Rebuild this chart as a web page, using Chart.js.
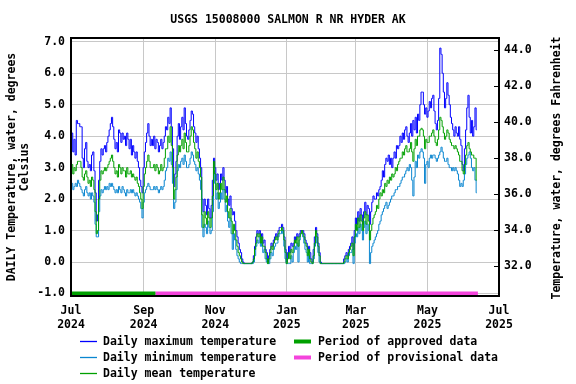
<!DOCTYPE html>
<html><head><meta charset="utf-8">
<script src="https://cdn.jsdelivr.net/npm/chart.js@4.4.1/dist/chart.umd.min.js"></script>
<style>html,body{margin:0;padding:0;background:#fff}canvas{display:block}</style>
</head><body>
<canvas id="c" width="576" height="384"></canvas>
<script>
const chartTitle = 'USGS 15008000 SALMON R NR HYDER AK';
const leftTitle = ['DAILY Temperature, water, degrees', 'Celsius'];
const rightTitle = 'Temperature, water, degrees Fahrenheit';
const xTickDays = [0, 62, 123, 184, 243, 304, 365];
const xTickMonths = ['Jul', 'Sep', 'Nov', 'Jan', 'Mar', 'May', 'Jul'];
const xTickYears = ['2024', '2024', '2024', '2025', '2025', '2025', '2025'];
const yTicksC = [-1, 0, 1, 2, 3, 4, 5, 6, 7];
const yTicksF = [32, 34, 36, 38, 40, 42, 44];
const yMinC = -1.08, yMaxC = 7.12;
const yMinF = 30.33, yMaxF = 44.67;

const maxT = [
3.6,4.1,3.5,3.9,3.4,4.5,4.4,4.4,4.3,4.3,
3.3,3.0,3.6,3.8,3.2,3.0,3.1,2.9,3.4,3.5,
2.9,2.2,1.3,1.5,2.6,3.2,3.6,3.4,3.6,3.7,
3.5,3.8,4.0,4.2,4.4,4.6,4.3,3.9,3.6,3.8,
3.5,4.2,4.1,3.8,4.1,3.9,4.0,3.7,4.1,3.9,
3.6,3.9,3.4,3.7,3.5,3.3,3.5,3.2,3.0,2.6,
2.4,2.2,3.0,3.5,3.8,4.1,4.4,4.0,3.7,3.9,
3.7,4.0,3.6,3.9,3.8,3.5,3.7,3.9,3.6,3.8,
4.0,4.3,4.2,4.6,4.4,4.9,4.3,3.6,2.4,2.8,
3.2,4.0,4.4,3.9,4.3,4.6,4.2,4.9,4.4,4.0,
3.9,4.2,4.5,4.8,4.7,4.3,4.1,3.8,4.0,3.6,
3.3,3.0,2.0,1.6,2.0,1.8,1.5,2.0,1.7,1.4,
1.8,2.6,3.3,3.0,2.6,2.8,2.3,2.5,2.8,2.6,
3.0,2.6,2.2,2.4,2.0,1.8,2.1,1.7,1.5,1.6,
1.3,1.0,0.8,0.6,0.4,0.3,0.1,0.0,-0.05,-0.05,
-0.05,-0.05,-0.05,-0.05,-0.05,0.0,0.2,0.5,0.8,1.0,
0.9,1.0,0.8,0.9,0.6,0.7,0.4,0.3,0.0,0.2,
0.4,0.6,0.5,0.7,0.8,0.9,0.8,1.0,1.1,1.1,
1.2,1.1,0.8,0.4,0.0,0.3,0.5,0.3,0.6,0.5,
0.6,0.8,0.7,0.9,0.8,0.9,1.0,1.0,1.0,0.9,
0.7,0.6,0.4,0.5,0.3,0.1,0.0,0.4,0.8,1.1,
0.9,0.6,0.3,0.0,-0.05,-0.05,-0.05,-0.05,-0.05,-0.05,
-0.05,-0.05,-0.05,-0.05,-0.05,-0.05,-0.05,-0.05,-0.05,-0.05,
-0.05,-0.05,-0.05,0.1,0.2,0.3,0.2,0.4,0.5,0.6,
0.8,0.4,1.0,1.4,1.2,1.6,1.3,1.7,1.5,1.2,
1.6,1.9,1.5,1.8,1.7,1.2,1.6,1.9,2.1,2.0,
2.0,2.2,2.1,2.3,2.4,2.6,2.9,2.7,3.1,3.3,
3.2,3.4,3.1,3.3,3.0,3.3,3.5,3.3,3.7,3.6,
3.7,4.0,3.8,4.1,3.9,4.2,4.3,4.0,3.8,4.1,
4.4,4.0,4.5,4.2,4.6,4.1,4.7,4.5,5.0,5.4,
5.4,5.0,4.7,4.9,4.6,4.8,5.1,4.9,5.2,5.3,
4.8,4.4,4.2,4.5,5.2,6.8,6.6,6.0,5.4,4.9,
5.2,5.7,5.3,5.0,4.6,4.4,4.2,4.0,4.3,4.1,
4.0,4.3,3.9,3.7,3.1,2.9,3.6,4.2,4.9,5.3,
4.6,4.1,4.5,4.0,4.3,4.9,4.2
];
const minT = [
2.4,2.5,2.3,2.4,2.5,2.4,2.6,2.5,2.4,2.3,
2.2,2.1,2.3,2.4,2.2,2.1,2.2,2.0,2.2,2.1,
1.9,1.2,0.8,0.8,1.6,2.1,2.3,2.2,2.3,2.4,
2.3,2.4,2.3,2.5,2.4,2.5,2.4,2.3,2.2,2.3,
2.2,2.4,2.3,2.2,2.4,2.3,2.2,2.1,2.3,2.2,
2.2,2.3,2.2,2.3,2.2,2.1,2.2,2.1,2.0,1.9,
1.7,1.4,1.9,2.2,2.3,2.4,2.5,2.4,2.3,2.3,
2.3,2.4,2.3,2.4,2.3,2.2,2.3,2.4,2.3,2.4,
2.6,2.9,3.0,3.3,3.2,3.5,3.1,2.5,1.7,1.9,
2.3,2.9,3.1,3.0,3.2,3.3,3.1,3.4,3.2,3.0,
3.0,3.1,3.3,3.5,3.4,3.2,3.1,2.9,3.0,2.8,
2.6,2.3,1.1,0.8,1.2,1.1,0.9,1.3,1.1,0.9,
1.0,1.6,2.9,2.5,2.0,2.2,1.7,1.9,2.2,2.0,
2.3,2.0,1.6,1.8,1.3,1.1,1.4,0.9,0.4,0.9,
0.7,0.4,0.2,0.1,0.0,-0.05,-0.05,-0.05,-0.05,-0.05,
-0.05,-0.05,-0.05,-0.05,-0.05,-0.05,0.0,0.2,0.5,0.7,
0.6,0.8,0.5,0.6,0.3,0.4,0.1,0.0,-0.05,-0.05,
0.1,0.3,0.2,0.4,0.5,0.6,0.6,0.8,0.9,0.9,
1.0,0.9,0.5,0.1,-0.05,-0.05,-0.05,-0.05,0.2,0.0,
0.3,0.5,0.4,0.6,0.0,0.7,0.9,0.9,0.8,0.6,
0.4,0.3,0.0,0.2,-0.05,-0.05,-0.05,0.1,0.5,0.8,
0.6,0.3,0.0,-0.05,-0.05,-0.05,-0.05,-0.05,-0.05,-0.05,
-0.05,-0.05,-0.05,-0.05,-0.05,-0.05,-0.05,-0.05,-0.05,-0.05,
-0.05,-0.05,-0.05,-0.05,0.0,0.1,0.0,0.2,0.3,0.3,
0.4,-0.05,0.6,0.9,0.8,1.1,0.9,1.2,1.0,0.7,
1.1,1.3,0.9,1.2,1.0,-0.05,0.3,0.5,0.6,0.7,
0.8,0.9,1.0,1.2,1.3,1.5,1.6,1.7,1.8,1.9,
1.7,1.8,1.9,2.0,2.1,2.1,2.2,2.3,2.3,2.4,
2.4,2.5,2.6,2.7,2.7,2.8,2.9,3.0,2.9,3.1,
3.0,2.6,2.1,2.7,3.2,3.0,3.4,3.3,3.5,3.6,
3.5,3.3,2.5,3.1,3.2,3.0,3.3,3.4,3.3,3.4,
3.4,3.3,3.2,3.3,3.4,3.5,3.65,3.5,3.3,3.2,
3.2,3.3,3.1,3.0,3.0,2.9,3.0,2.9,3.0,2.9,
2.8,2.6,2.4,2.5,2.4,2.6,2.8,3.1,3.3,3.4,
3.5,3.3,3.0,2.9,3.0,2.6,2.2
];
const meanT = [
2.9,3.1,2.8,3.0,2.9,3.1,3.2,3.2,3.2,3.0,
2.7,2.6,2.8,2.9,2.7,2.5,2.6,2.4,2.7,2.6,
2.3,1.6,0.9,1.0,2.0,2.6,2.9,2.8,2.9,3.0,
2.9,3.0,3.1,3.2,3.3,3.4,3.2,3.0,2.8,2.9,
2.7,3.1,3.0,2.8,3.0,2.9,2.9,2.7,3.0,2.8,
2.8,2.9,2.7,2.8,2.7,2.6,2.7,2.5,2.4,2.2,
2.0,1.7,2.4,2.8,3.0,3.2,3.4,3.2,3.0,3.0,
3.0,3.1,2.9,3.1,3.0,2.8,2.9,3.1,2.9,3.0,
3.3,3.6,3.6,4.0,3.8,4.3,3.7,3.0,2.0,2.3,
2.7,3.4,3.7,3.5,3.7,3.9,3.6,4.1,3.8,3.5,
3.5,3.7,4.0,4.3,4.2,3.8,3.6,3.3,3.5,3.2,
3.0,2.7,1.5,1.1,1.6,1.4,1.2,1.6,1.4,1.1,
1.4,2.1,3.2,2.8,2.3,2.5,2.0,2.2,2.5,2.3,
2.7,2.3,1.9,2.1,1.6,1.4,1.7,1.3,0.9,1.2,
1.0,0.7,0.5,0.3,0.2,0.1,0.0,-0.05,-0.05,-0.05,
-0.05,-0.05,-0.05,-0.05,-0.05,0.0,0.1,0.4,0.6,0.9,
0.8,0.9,0.6,0.8,0.5,0.5,0.3,0.1,-0.05,0.1,
0.3,0.5,0.4,0.6,0.7,0.8,0.7,0.9,1.0,1.0,
1.1,1.0,0.7,0.3,-0.05,0.1,0.3,0.1,0.4,0.3,
0.5,0.7,0.6,0.8,0.5,0.8,0.9,1.0,0.9,0.8,
0.6,0.5,0.2,0.4,0.1,0.0,-0.05,0.2,0.6,1.0,
0.8,0.5,0.2,-0.05,-0.05,-0.05,-0.05,-0.05,-0.05,-0.05,
-0.05,-0.05,-0.05,-0.05,-0.05,-0.05,-0.05,-0.05,-0.05,-0.05,
-0.05,-0.05,-0.05,0.0,0.1,0.2,0.1,0.3,0.4,0.5,
0.6,0.2,0.8,1.2,1.0,1.4,1.1,1.5,1.3,1.0,
1.4,1.6,1.2,1.5,1.3,0.7,1.0,1.2,1.4,1.5,
1.6,1.8,1.7,2.0,2.2,2.1,2.3,2.2,2.5,2.4,
2.6,2.5,2.7,2.6,2.8,2.7,2.8,3.0,2.9,3.1,
3.2,3.3,3.3,3.5,3.4,3.6,3.7,3.5,3.5,3.6,
3.8,3.5,3.2,3.6,3.9,3.7,4.0,4.0,4.2,4.25,
4.2,4.0,3.6,3.9,3.8,3.8,4.0,4.0,4.1,4.2,
4.0,3.8,3.7,3.9,4.2,4.6,4.5,4.3,4.1,3.9,
4.0,4.2,4.1,3.9,3.8,3.7,3.7,3.6,3.7,3.6,
3.5,3.4,3.2,3.2,2.9,2.8,3.1,3.4,3.7,3.8,
3.6,3.5,3.4,3.4,3.3,3.3,2.6
];
const approvedDays = [0, 72];
const provisionalDays = [72, 347];
const statusLevel = -1.0;

const FONT = "'DejaVu Sans Mono', monospace";
const C_MAX = '#0000ff', C_MIN = '#0a86d0', C_MEAN = '#00a000', C_APP = '#00a000', C_PROV = '#f444dc';

const toXY = arr => arr.map((v, i) => ({x: i, y: v}));
const lineDs = (label, arr, color, order) => ({
  label, data: toXY(arr), borderColor: color, backgroundColor: color, borderWidth: 1,
  pointRadius: 0, stepped: 'middle', fill: false, order, yAxisID: 'y'
});
const barDs = (label, days, color) => ({
  label, data: days.map(d => ({x: d, y: statusLevel})), borderColor: color, backgroundColor: color,
  borderWidth: 4, pointRadius: 0, fill: false, order: 5, yAxisID: 'y', borderCapStyle: 'butt'
});

const legendItems = [
  {label: 'Daily maximum temperature', color: C_MAX, x: 80, y: 341, w: 1.3},
  {label: 'Daily minimum temperature', color: C_MIN, x: 80, y: 357, w: 1.3},
  {label: 'Daily mean temperature', color: C_MEAN, x: 80, y: 373, w: 1.3},
  {label: 'Period of approved data', color: C_APP, x: 294, y: 341, w: 4},
  {label: 'Period of provisional data', color: C_PROV, x: 294, y: 357, w: 4}
];

const decor = {
  id: 'decor',
  afterDraw(chart) {
    const {ctx, chartArea: a} = chart;
    ctx.save();
    ctx.strokeStyle = '#000'; ctx.lineWidth = 2;
    ctx.strokeRect(a.left, a.top, a.right - a.left, a.bottom - a.top);
    const y2 = chart.scales.y2;
    ctx.lineWidth = 1;
    yTicksF.forEach(f => {
      const py = Math.round(y2.getPixelForValue(f)) + 0.5;
      ctx.beginPath(); ctx.moveTo(a.right - 5, py); ctx.lineTo(a.right, py); ctx.stroke();
    });
    ctx.fillStyle = '#000';
    ctx.font = 'bold 11.5px ' + FONT;
    ctx.textAlign = 'center'; ctx.textBaseline = 'middle';
    ctx.fillText(chartTitle, 288, 20);
    ctx.save(); ctx.translate(12, 167); ctx.rotate(-Math.PI / 2);
    ctx.fillText(leftTitle[0], 0, 0); ctx.fillText(leftTitle[1], 0, 13); ctx.restore();
    ctx.save(); ctx.translate(557, 168); ctx.rotate(-Math.PI / 2);
    ctx.fillText(rightTitle, 0, 0); ctx.restore();
    ctx.textAlign = 'left';
    legendItems.forEach(it => {
      ctx.strokeStyle = it.color; ctx.lineWidth = it.w;
      ctx.beginPath(); ctx.moveTo(it.x, it.y + 0.5); ctx.lineTo(it.x + 17, it.y + 0.5); ctx.stroke();
      ctx.fillStyle = '#000';
      ctx.fillText(it.label, it.x + (it.w > 2 ? 24 : 23), it.y + 1);
    });
    ctx.restore();
  }
};

new Chart(document.getElementById('c'), {
  type: 'line',
  data: {
    datasets: [
      lineDs('Daily maximum temperature', maxT, C_MAX, 2),
      lineDs('Daily minimum temperature', minT, C_MIN, 1),
      lineDs('Daily mean temperature', meanT, C_MEAN, 0),
      barDs('Period of approved data', approvedDays, C_APP),
      barDs('Period of provisional data', provisionalDays, C_PROV)
    ]
  },
  options: {
    responsive: false, animation: false, devicePixelRatio: 1,
    layout: {padding: {top: 38, bottom: 48, left: 0, right: 0}},
    plugins: {legend: {display: false}, title: {display: false}, tooltip: {enabled: false}},
    scales: {
      x: {
        type: 'linear', min: 0, max: 365,
        afterBuildTicks: s => { s.ticks = xTickDays.map(v => ({value: v})); },
        afterFit: s => { s.height = 40; },
        grid: {color: '#c8c8c8', lineWidth: 1, drawTicks: false},
        border: {display: false},
        ticks: {
          padding: 8, color: '#000', autoSkip: false, maxRotation: 0,
          font: {family: FONT, size: 11.5, weight: 'bold', lineHeight: 1.2},
          callback: (v) => { const i = xTickDays.indexOf(v); return i < 0 ? '' : [xTickMonths[i], xTickYears[i]]; }
        }
      },
      y: {
        position: 'left', min: yMinC, max: yMaxC,
        afterBuildTicks: s => { s.ticks = yTicksC.map(v => ({value: v})); },
        afterFit: s => { s.width = 71; },
        grid: {color: '#c8c8c8', lineWidth: 1, drawTicks: false},
        border: {display: false},
        ticks: {padding: 6, color: '#000', font: {family: FONT, size: 11.5, weight: 'bold'},
          callback: v => Number(v).toFixed(1)}
      },
      y2: {
        position: 'right', min: yMinF, max: yMaxF,
        afterBuildTicks: s => { s.ticks = yTicksF.map(v => ({value: v})); },
        afterFit: s => { s.width = 77; },
        grid: {drawOnChartArea: false, drawTicks: false},
        border: {display: false},
        ticks: {padding: 5, color: '#000', font: {family: FONT, size: 11.5, weight: 'bold'},
          callback: v => Number(v).toFixed(1)}
      }
    }
  },
  plugins: [decor]
});
</script>
</body></html>
